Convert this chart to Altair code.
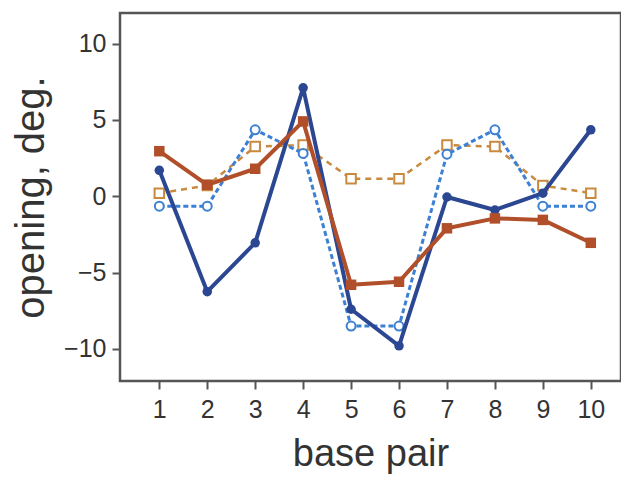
import altair as alt
import pandas as pd

base_pair = [1, 2, 3, 4, 5, 6, 7, 8, 9, 10]
dark_blue = [1.7, -6.25, -3.05, 7.1, -7.4, -9.8, -0.05, -0.9, 0.2, 4.35]
rust = [2.95, 0.75, 1.8, 4.9, -5.8, -5.6, -2.1, -1.45, -1.55, -3.05]
light_blue = [-0.65, -0.65, 4.35, 2.8, -8.5, -8.5, 2.75, 4.35, -0.65, -0.65]
tan = [0.2, 0.7, 3.25, 3.35, 1.15, 1.15, 3.35, 3.25, 0.7, 0.2]

x_scale = alt.Scale(domain=[0.18, 10.63], nice=False, zero=False)
y_scale = alt.Scale(domain=[-12.1, 12.0], nice=False, zero=False)

x_axis = alt.Axis(values=base_pair, title="base pair", grid=False, labelFontSize=25,
                  titleFontSize=38, titleFontWeight="normal", tickSize=8, tickWidth=2,
                  labelPadding=8, titlePadding=13, domain=False, tickColor="#555",
                  labelColor="#333", titleColor="#333", labelFont="Liberation Sans",
                  titleFont="Liberation Sans")
y_axis = alt.Axis(values=[-10, -5, 0, 5, 10], title="opening, deg.", grid=False,
                  labelFontSize=25, titleFontSize=40, titleFontWeight="normal",
                  tickSize=8, tickWidth=2, labelPadding=6, titlePadding=12, domain=False,
                  tickColor="#555", labelColor="#333", titleColor="#333",
                  labelFont="Liberation Sans", titleFont="Liberation Sans")


def series(vals, color, dash, shape, filled, size, lw):
    df = pd.DataFrame({"bp": base_pair, "v": vals})
    enc_x = alt.X("bp:Q", scale=x_scale, axis=x_axis)
    enc_y = alt.Y("v:Q", scale=y_scale, axis=y_axis)
    line_kwargs = dict(color=color, strokeWidth=lw, strokeJoin="round")
    if dash:
        line_kwargs["strokeDash"] = dash
    line = alt.Chart(df).mark_line(**line_kwargs).encode(x=enc_x, y=enc_y)
    if filled:
        pts = alt.Chart(df).mark_point(shape=shape, filled=True, color=color, size=size,
                                       opacity=1).encode(x=enc_x, y=enc_y)
    else:
        pts = alt.Chart(df).mark_point(shape=shape, filled=True, fill="white",
                                       stroke=color, strokeWidth=2, size=size,
                                       opacity=1).encode(x=enc_x, y=enc_y)
    return [line, pts]


layers = alt.layer(
    *series(tan, "#c98a3e", [6, 5], "square", False, 90, 2.5),
    *series(light_blue, "#3b80d2", [5, 3], "circle", False, 80, 3),
    *series(dark_blue, "#2c4792", None, "circle", True, 90, 4),
    *series(rust, "#b04f2a", None, "square", True, 110, 4),
)

chart = layers.properties(
    width=501, height=368,
    autosize=alt.AutoSizeParams(type="none"),
    padding={"left": 112, "top": 5, "right": 0, "bottom": 95},
).configure(background="white").configure_view(stroke="#555", strokeWidth=2.5)

chart.save("out.html", embed_options={"renderer": "svg", "actions": False})
